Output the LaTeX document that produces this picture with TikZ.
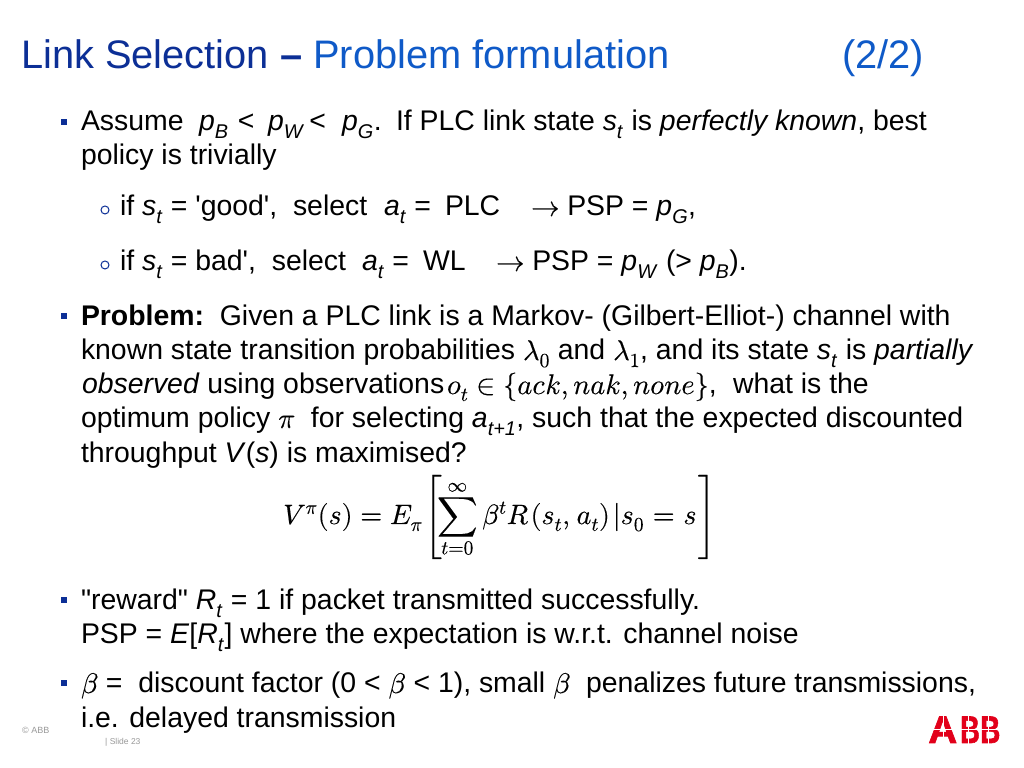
\documentclass[tikz,border=0pt]{standalone}
\usepackage{fontspec}
\usepackage{amsmath}
\usepackage{unicode-math}
\setmainfont{Liberation Sans}
\setmathfont{Latin Modern Math}[FakeBold=0.35]
\newfontfamily\qf{Liberation Sans}
\newfontfamily\logof{Liberation Sans Bold}[FakeBold=1.5]
\definecolor{abbblue}{HTML}{0C2F96}
\definecolor{abbbright}{HTML}{0F5AC8}
\definecolor{abbred}{HTML}{E2001A}
\newcommand{\sq}{{\qf'}}
\newcommand{\dq}{{\qf"}}
\newcommand{\arr}{$\rightarrow$}
\tikzset{
 txt/.style={anchor=base west,inner sep=0pt,outer sep=0pt,font=\fontsize{28.4bp}{34bp}\selectfont,text=black},
 ttl/.style={anchor=base west,inner sep=0pt,font=\fontsize{39.8bp}{46bp}\selectfont,text=abbblue},
 smallt/.style={anchor=base west,inner sep=0pt,font=\fontsize{9bp}{10bp}\selectfont,text=gray!80},
 logot/.style={anchor=base west,inner sep=0pt,font=\logof\fontsize{35bp}{35bp}\selectfont,text=abbred,transform shape},
 bul/.style={fill=abbblue,draw=none,minimum size=6bp,inner sep=0pt},
 cir/.style={draw=abbblue,line width=1bp,circle,minimum size=8bp,inner sep=0pt},
}
\begin{document}
\begin{tikzpicture}[x=1bp,y=1bp]
\useasboundingbox (0,0) rectangle (1024,768);
\fill[white] (0,0) rectangle (1024,768);
\node[ttl] (t1) at (21,699) {Link Selection \textbf{–} \textcolor{abbbright}{Problem formulation}};
\node[ttl,text=abbbright] (t2) at (842,699) {(2/2)};
% bullets
\node[bul] (b1) at (64,646) {};
\node[bul] (b2) at (64,452) {};
\node[bul] (b3) at (64,168) {};
\node[bul] (b4) at (64,85) {};
\node[cir] (c1) at (105,558) {};
\node[cir] (c2) at (105,503) {};
% para 1
\node[txt] (a1) at (81,637) {Assume};
\node[txt] (a2) at (199,637) {\textit{p}\textsubscript{\textit{B}}\hspace{.33em}<};
\node[txt] (a3) at (268,637) {\textit{p}\textsubscript{\textit{W}}\,<};
\node[txt] (a4) at (342,637) {\textit{p}\textsubscript{\textit{G}}.};
\node[txt] (a5) at (396,637) {If PLC link state \textit{s}\textsubscript{\textit{t}} is \textit{perfectly known}, best};
\node[txt] (a6) at (81,603) {policy is trivially};
\node[txt] (g1) at (120,552) {if \textit{s}\textsubscript{\textit{t}} = \sq good\sq,\ \ select};
\node[txt] (g2) at (384,552) {\textit{a}\textsubscript{\textit{t}} =};
\node[txt] (g3) at (445,552) {PLC};
\node[txt] (g4) at (531,552) {\arr\ PSP = \textit{p}\textsubscript{\textit{G}},};
\node[txt] (h1) at (120,497) {if \textit{s}\textsubscript{\textit{t}} = bad\sq,\ \ select};
\node[txt] (h2) at (362,497) {\textit{a}\textsubscript{\textit{t}} =};
\node[txt] (h3) at (423,497) {WL};
\node[txt] (h4) at (496,497) {\arr\ PSP = \textit{p}\textsubscript{\textit{W}} (> \textit{p}\textsubscript{\textit{B}}).};
% para 2
\node[txt] (p1) at (81,442) {\textbf{Problem:}\ \ Given a PLC link is a Markov- (Gilbert-Elliot-) channel with};
\node[txt] (p2) at (81,408) {known state transition probabilities $\symit{\lambda}_0$ and $\symit{\lambda}_1$, and its state \textit{s}\textsubscript{\textit{t}} is \textit{partially}};
\node[txt] (p3a) at (82,374) {\textit{observed} using observations};
\node[txt] (p3b) at (447,374) {$o_t\in\{ack,nak,none\}$,};
\node[txt] (p3c) at (733,374) {what is the};
\node[txt] (p4) at (81,340) {optimum policy $\symit{\pi}$ \ for selecting \textit{a}\textsubscript{\textit{t+1}}, such that the expected discounted};
\node[txt] (p5) at (81,305.5) {throughput \textit{V}(\textit{s}) is maximised?};
\node[anchor=base west,inner sep=0pt,font=\fontsize{28bp}{34bp}\selectfont] (eq) at (283,244)
 {$\displaystyle V^{\pi}(s)=E_{\pi}\kern-4bp\left[\kern-5bp\sum_{t=0}^{\infty}\beta^{t}R\kern2bp(s_t,\kern2bp a_t)\kern3bp|s_0\kern1bp=\kern1bp s\kern1bp\right]$};
% para 3
\node[txt] (r1) at (81,158) {\dq reward\dq\ \textit{R}\textsubscript{\textit{t}} = 1 if packet transmitted successfully.};
\node[txt] (r2) at (81,124) {PSP = \textit{E}[\textit{R}\textsubscript{\textit{t}}] where the expectation is w.r.t. channel noise};
% para 4
\node[txt] (d1) at (81,75) {$\symit{\beta}$ =\ \ discount factor (0 < $\symit{\beta}$ < 1), small $\symit{\beta}$ \ penalizes future transmissions,};
\node[txt] (d2) at (81,40) {i.e. delayed transmission};
% footer
\node[smallt] (f1) at (22,34) {© ABB};
\node[smallt,font=\fontsize{8.5bp}{10bp}\selectfont] (f2) at (105,23) {| Slide 23};
% logo
\node[logot,xscale=1.15,yscale=1.1] (logoA) at (928,25) {A};
\node[logot,xscale=.78,yscale=1.1] (logoB) at (960,25) {B};
\node[logot,xscale=.8,yscale=1.1] (logoC) at (980,25) {B};
\draw[white,line width=.6bp] (926,39) -- (1002,39);
\draw[white,line width=.6bp] (943,52) -- (943,24);
\draw[white,line width=.6bp] (968,52) -- (968,24);
\draw[white,line width=.6bp] (988,52) -- (988,24);
\end{tikzpicture}
\end{document}
